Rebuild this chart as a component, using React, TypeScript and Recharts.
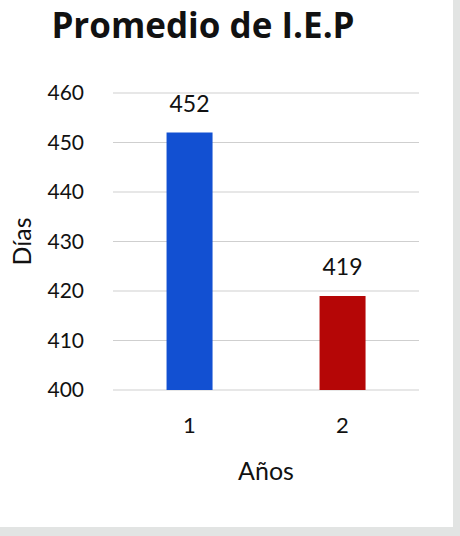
import { BarChart, Bar, XAxis, YAxis, CartesianGrid, Cell, LabelList } from "recharts";

const years = ["1", "2"];
const avgDays = [452, 419];
const barColors = ["#1250d2", "#b50606"];
const dayTicks = [400, 410, 420, 430, 440, 450, 460];

const data = years.map((year, i) => ({ year, days: avgDays[i] }));

const FONT = "Lato, 'Open Sans', sans-serif";

export default function App() {
  return (
    <div
      style={{
        position: "absolute",
        left: 0,
        top: 0,
        width: 460,
        height: 536,
        background: "#e2e4e3",
        fontFamily: FONT,
      }}
    >
      <div style={{ position: "relative", width: 453, height: 527, background: "#ffffff" }}>
        <div
          style={{
            position: "absolute",
            left: 0,
            width: 406,
            top: 1,
            textAlign: "center",
            fontSize: 35,
            fontWeight: 700,
            fontFamily: "'Open Sans', sans-serif",
            color: "#111",
          }}
        >
          Promedio de I.E.P
        </div>
        <BarChart
          width={453}
          height={527}
          data={data}
          margin={{ top: 93, right: 34, bottom: 47, left: 0 }}
          barCategoryGap="35%"
        >
          <CartesianGrid vertical={false} stroke="#cfcfcf" strokeWidth={1} />
          <XAxis
            dataKey="year"
            height={90}
            axisLine={false}
            tickLine={false}
            tickSize={0}
            tickMargin={27}
            tick={{ fill: "#111", fontSize: 22, fontFamily: FONT }}
            label={{
              value: "Años",
              position: "insideBottom",
              offset: 0,
              fill: "#111",
              fontSize: 25,
              fontFamily: FONT,
            }}
          />
          <YAxis
            width={113}
            domain={[400, 460]}
            ticks={dayTicks}
            allowDataOverflow
            axisLine={false}
            tickLine={false}
            tickSize={0}
            tickMargin={29}
            tick={{ fill: "#111", fontSize: 21, fontFamily: FONT }}
            label={{
              value: "Días",
              angle: -90,
              position: "insideLeft",
              offset: 22,
              fill: "#111",
              fontSize: 25,
              fontFamily: FONT,
              style: { textAnchor: "middle" },
            }}
          />
          <Bar dataKey="days" isAnimationActive={false}>
            {data.map((d, i) => (
              <Cell key={d.year} fill={barColors[i]} />
            ))}
            <LabelList
              dataKey="days"
              position="top"
              offset={21}
              fill="#111"
              fontSize={23}
              fontFamily={FONT}
            />
          </Bar>
        </BarChart>
      </div>
    </div>
  );
}
